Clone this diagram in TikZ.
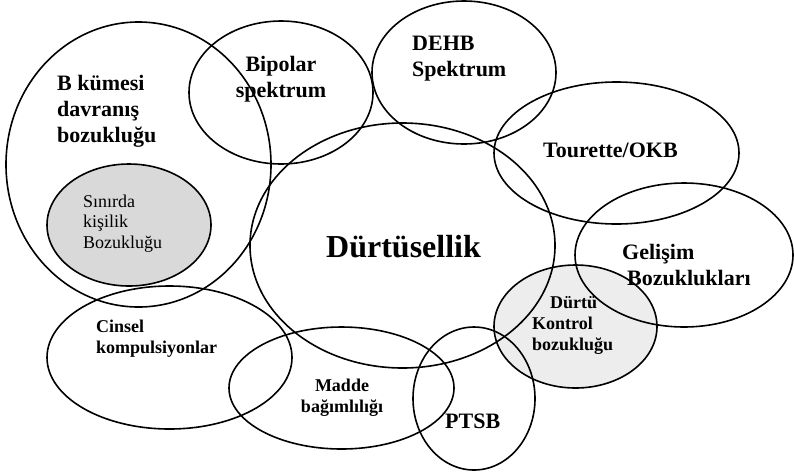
\documentclass[tikz,border=0pt]{standalone}
\usepackage{fontspec}
\setmainfont{Liberation Serif}
\usepackage{tikz}
\usepackage{xcolor}

\begin{document}
\begin{tikzpicture}[
        x=1pt, y=-1pt,
        bubble/.style={draw, line width=1.6pt},
        lbl/.style={inner sep=0pt, anchor=base west, align=left,
                    font=\fontsize{22}{26}\selectfont\bfseries},
        smalllbl/.style={lbl, font=\fontsize{18}{21}\selectfont\bfseries},
        plainlbl/.style={lbl, font=\fontsize{18}{20.5}\selectfont}
    ]
    \useasboundingbox (0,0) rectangle (794,475);

    % shaded sets first
    \fill[gray!30] (129,225) ellipse [x radius=82pt, y radius=61pt];
    \fill[black!7] (575.5,326.5) ellipse [x radius=81.5pt, y radius=61.5pt];

    % outlines
    \draw[bubble] (138.5,164.5) ellipse [x radius=132.5pt, y radius=142.5pt];
    \draw[bubble] (129,225) ellipse [x radius=82pt, y radius=61pt];
    \draw[bubble] (281,92.5) ellipse [x radius=92pt, y radius=71.5pt];
    \draw[bubble] (464,72.5) ellipse [x radius=92pt, y radius=71.5pt];
    \draw[bubble] (616.5,153) ellipse [x radius=122.5pt, y radius=71pt];
    \draw[bubble] (402.5,245.5) ellipse [x radius=152.5pt, y radius=122.5pt];
    \draw[bubble] (684,255) ellipse [x radius=109pt, y radius=72pt];
    \draw[bubble] (575.5,326.5) ellipse [x radius=81.5pt, y radius=61.5pt];
    \draw[bubble] (169.5,357.5) ellipse [x radius=122.5pt, y radius=71.5pt];
    \draw[bubble] (341.5,388) ellipse [x radius=112.5pt, y radius=61pt];
    \draw[bubble] (474,398.5) ellipse [x radius=61pt, y radius=71.5pt];

    % labels (anchored on the baseline of the last line)
    \node[lbl] (bkume) at (57,142) {B kümesi\\davranış\\bozukluğu};
    \node[plainlbl] (sinirda) at (83,248) {Sınırda\\kişilik\\Bozukluğu};
    \node[lbl, anchor=base, align=center] (bipolar) at (281,97) {Bipolar\\spektrum};
    \node[lbl] (dehb) at (412,76) {DEHB\\Spektrum};
    \node[lbl] (tourette) at (543,157) {Tourette/OKB};
    \node[lbl, font=\fontsize{32}{36}\selectfont\bfseries] (durtusellik) at (326,257) {Dürtüsellik};
    \node[lbl] (gelisim) at (622,285) {Gelişim\\\hspace*{5pt}Bozuklukları};
    \node[smalllbl] (kontrol) at (532,350) {\hspace*{18pt}Dürtü\\Kontrol\\bozukluğu};
    \node[smalllbl] (cinsel) at (96,353) {Cinsel\\kompulsiyonlar};
    \node[smalllbl, anchor=base, align=center] (madde) at (342,412) {Madde\\bağımlılığı};
    \node[lbl] (ptsb) at (445,428) {PTSB};
\end{tikzpicture}
\end{document}
